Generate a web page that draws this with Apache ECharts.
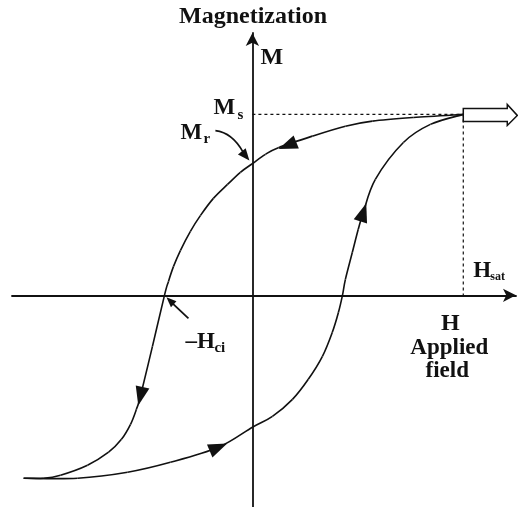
<!DOCTYPE html>
<html lang="en">
<head>
<meta charset="UTF-8">
<title>Hysteresis loop</title>
<style>
  html, body { margin: 0; padding: 0; background: #fff; }
  #chart { width: 518px; height: 507px; }
</style>
</head>
<body>
<div id="chart"></div>
<script src="https://cdn.jsdelivr.net/npm/echarts@6/dist/echarts.min.js"></script>
<script>
// key values (normalised: Hsat = 1, Ms = 1)
var hsat = 1, ms = 1, mr = 0.728, hci = 0.417;

// descending branch (from +saturation down to -saturation)
var descH = [1.0, 0.763, 0.569, 0.441, 0.284, 0.123, 0.062, 0, -0.057, -0.118, -0.185, -0.246, -0.294,
             -0.341, -0.374, -0.398, -0.417, -0.474, -0.531, -0.55, -0.578, -0.621, -0.682, -0.782,
             -0.91, -0.991, -1.085];
var descM = [1.0, 0.983, 0.963, 0.935, 0.88, 0.816, 0.779, 0.728, 0.68, 0.613, 0.536, 0.442, 0.354,
             0.249, 0.16, 0.077, 0, -0.282, -0.558, -0.63, -0.713, -0.796, -0.867, -0.939,
             -0.994, -1.011, -1.011];

// ascending branch (from -saturation back up)
var ascH = [-1.085, -0.829, -0.592, -0.389, -0.161, 0, 0.095, 0.19, 0.265, 0.332, 0.379, 0.408,
            0.427, 0.441, 0.474, 0.502, 0.526, 0.583, 0.716, 0.844, 1.0];
var ascM = [-1.011, -1.011, -0.978, -0.923, -0.84, -0.729, -0.669, -0.575, -0.464, -0.337, -0.204, -0.094,
            0, 0.088, 0.238, 0.365, 0.459, 0.641, 0.845, 0.945, 1.0];

// direction arrows on the loop
var arrowH = [0.166, -0.531, -0.161, 0.526];
var arrowM = [0.828, -0.558, -0.840, 0.459];
var arrowRot = [112, 167, -67, -18];

var ink = '#111';
var serif = '"Liberation Serif", "Times New Roman", serif';

function zip(a, b) {
  return a.map(function (v, i) { return [v, b[i]]; });
}

// smooth curve through the points: one cubic segment per point (catmull-rom)
function branch(h, m) {
  var n = h.length;
  return {
    type: 'custom', data: zip(h, m), z: 3,
    renderItem: function (params, api) {
      var i = params.dataIndexInside;
      if (i >= n - 1) return null;
      function pt(k) {
        k = Math.max(0, Math.min(n - 1, k));
        return api.coord([api.value(0, k), api.value(1, k)]);
      }
      var p0 = pt(i - 1), p1 = pt(i), p2 = pt(i + 1), p3 = pt(i + 2);
      return {
        type: 'bezierCurve',
        shape: {
          x1: p1[0], y1: p1[1], x2: p2[0], y2: p2[1],
          cpx1: p1[0] + (p2[0] - p0[0]) / 6, cpy1: p1[1] + (p2[1] - p0[1]) / 6,
          cpx2: p2[0] - (p3[0] - p1[0]) / 6, cpy2: p2[1] - (p3[1] - p1[1]) / 6
        },
        style: { stroke: ink, lineWidth: 1.6, fill: 'none' }
      };
    }
  };
}

var chart = echarts.init(document.getElementById('chart'));

var axisCommon = {
  type: 'value',
  axisLine: { onZero: true, symbol: ['none', 'arrow'], symbolSize: [10, 13],
              lineStyle: { color: ink, width: 1.8 } },
  axisTick: { show: false },
  axisLabel: { show: false },
  splitLine: { show: false }
};

chart.setOption({
  animation: false,
  grid: { left: 12, right: 2, top: 33, bottom: 0 },
  xAxis: Object.assign({ min: -1.14, max: 1.25 }, axisCommon),
  yAxis: Object.assign({ min: -1.17, max: 1.45 }, axisCommon),
  series: [
    {
      type: 'line', data: [[0, ms], [hsat, ms], [hsat, 0]],
      symbol: 'none', lineStyle: { color: ink, width: 1.2, type: [3, 3] }, z: 1
    },
    branch(descH, descM),
    branch(ascH, ascM),
    {
      type: 'scatter', symbol: 'triangle', symbolSize: [14, 19],
      itemStyle: { color: ink, opacity: 1 },
      data: arrowH.map(function (h, i) {
        return { value: [h, arrowM[i]], symbolRotate: arrowRot[i] };
      }),
      z: 5
    },
    {
      type: 'custom', data: [[hsat, ms]], z: 6,
      renderItem: function (params, api) {
        var p = api.coord([api.value(0), api.value(1)]);
        var x = p[0], y = p[1];
        return {
          type: 'polygon',
          shape: { points: [[x, y - 6], [x + 44, y - 6], [x + 44, y - 10], [x + 54, y + 1],
                            [x + 44, y + 11], [x + 44, y + 7], [x, y + 7]] },
          style: { fill: '#fff', stroke: ink, lineWidth: 1.5 }
        };
      }
    }
  ]
});

function txt(s, x, y, size, align) {
  return { type: 'text', x: x, y: y, z: 10,
           style: { text: s, font: 'bold ' + size + 'px ' + serif, fill: ink,
                    align: align || 'left', verticalAlign: 'middle' } };
}

function head(tip, from, len, w) {
  var dx = tip[0] - from[0], dy = tip[1] - from[1];
  var d = Math.sqrt(dx * dx + dy * dy);
  var ux = dx / d, uy = dy / d;
  var bx = tip[0] - ux * len, by = tip[1] - uy * len;
  return { type: 'polygon', z: 10, style: { fill: ink },
           shape: { points: [tip, [bx - uy * w, by + ux * w], [bx + uy * w, by - ux * w]] } };
}

var pMr = chart.convertToPixel({ gridIndex: 0 }, [0, mr]);
var pHc = chart.convertToPixel({ gridIndex: 0 }, [-hci, 0]);
var pMs = chart.convertToPixel({ gridIndex: 0 }, [0, ms]);
var pHs = chart.convertToPixel({ gridIndex: 0 }, [hsat, 0]);

var mrTip = [pMr[0] - 3, pMr[1] - 3];
var hcTip = [pHc[0] + 2, pHc[1] + 2];

chart.setOption({
  graphic: [
    txt('Magnetization', 253, 17, 24, 'center'),
    txt('M', pMs[0] + 8, 58, 24),
    txt('M', pMs[0] - 39, pMs[1] - 6, 23),
    txt('s', pMs[0] - 15, pMs[1] + 1, 15),
    txt('M', pMs[0] - 72, pMs[1] + 19, 23),
    txt('r', pMs[0] - 49, pMs[1] + 25, 15),
    txt('H', pHs[0] + 10, pHs[1] - 24, 23),
    txt('sat', pHs[0] + 27, pHs[1] - 18, 12),
    txt('H', pHs[0] - 13, pHs[1] + 28, 24, 'center'),
    txt('Applied', pHs[0] - 14, pHs[1] + 53, 23, 'center'),
    txt('field', pHs[0] - 16, pHs[1] + 76, 23, 'center'),
    txt('\u2013H', pHc[0] + 21, pHc[1] + 47, 23),
    txt('ci', pHc[0] + 50, pHc[1] + 53, 15),
    { type: 'bezierCurve', z: 10,
      shape: { x1: pMr[0] - 37, y1: pMr[1] - 33, cpx1: pMr[0] - 20, cpy1: pMr[1] - 31,
               x2: mrTip[0] - 6, y2: mrTip[1] - 8 },
      style: { stroke: ink, lineWidth: 1.6, fill: 'none' } },
    head(mrTip, [mrTip[0] - 9, mrTip[1] - 11], 12, 5),
    { type: 'line', z: 10,
      shape: { x1: pHc[0] + 24, y1: pHc[1] + 23, x2: hcTip[0] + 6, y2: hcTip[1] + 6 },
      style: { stroke: ink, lineWidth: 1.8 } },
    head(hcTip, [pHc[0] + 24, pHc[1] + 23], 10, 4)
  ]
});
</script>
</body>
</html>
